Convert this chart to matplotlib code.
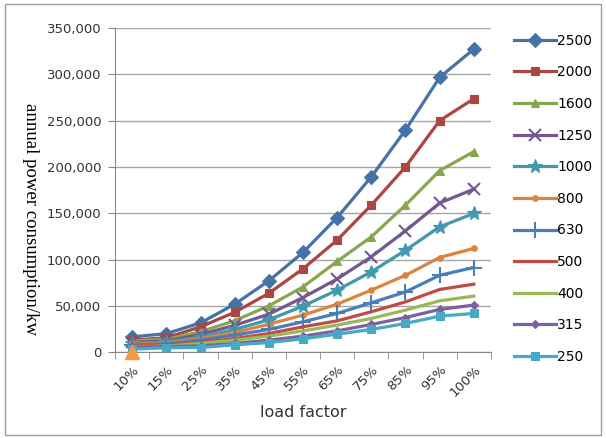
import numpy as np
import matplotlib
matplotlib.use('Agg')
import matplotlib.pyplot as plt
from matplotlib.ticker import FuncFormatter, FixedLocator
from matplotlib.patches import Rectangle

load = ['10%', '15%', '25%', '35%', '45%', '55%', '65%', '75%', '85%', '95%', '100%']

s2500 = [16500, 20000, 31600, 51800, 77000, 107700, 145400, 189300, 239800, 296700, 327200]
s2000 = [13000, 15500, 27400, 43000, 63600, 90000, 121000, 158800, 200000, 250000, 273600]
s1600 = [12000, 14000, 22000, 34000, 50000, 70500, 98000, 124500, 158800, 196000, 216500]
s1250 = [10500, 12000, 19000, 29000, 41000, 59000, 79000, 103000, 131000, 161000, 176000]
s1000 = [9500, 11000, 16500, 24500, 35000, 49700, 67000, 86700, 110000, 135300, 149800]
s800 = [8500, 10000, 14700, 21200, 30200, 40000, 51800, 67000, 83000, 102200, 112000]
s630 = [7800, 9000, 13000, 18400, 24500, 32800, 41800, 53300, 65000, 83000, 91400]
s500 = [6800, 7500, 10400, 14700, 20100, 27400, 33800, 43600, 54300, 67700, 73400]
s400 = [6000, 6500, 9400, 13000, 17300, 23000, 29200, 36400, 45400, 55400, 60500]
s315 = [5500, 6000, 6800, 9400, 13000, 17300, 23000, 29900, 37400, 46100, 50800]
s250 = [3200, 4700, 5000, 7900, 10400, 14400, 19400, 24500, 31000, 38900, 41800]
stray = [0]   # lone orange triangle at 10%

names = ['2500', '2000', '1600', '1250', '1000', '800', '630', '500', '400', '315', '250']
series = [s2500, s2000, s1600, s1250, s1000, s800, s630, s500, s400, s315, s250]
colors = ['#4572A7', '#AA4643', '#89A54E', '#71588F', '#4198AF', '#DB843D',
          '#4A7EBB', '#BE4B48', '#98B954', '#7D60A0', '#46AAC5']
markers = ['D', 's', '^', 'x', '*', 'o', '+', None, None, 'D', 's']
msizes = [7, 6, 6, 9, 10, 4, 11, 0, 0, 4, 6]

fig = plt.figure(figsize=(6.06, 4.38), dpi=100)
fig.patches.append(Rectangle((0.008, 0.006), 0.984, 0.985, transform=fig.transFigure,
                             fill=False, edgecolor='#9a9a9a', linewidth=1))
ax = fig.add_axes([0.19, 0.196, 0.62, 0.74])

x = np.arange(len(load))
for name, vals, c, m, ms in zip(names, series, colors, markers, msizes):
    ax.plot(x, vals, color=c, linewidth=2.3, marker=m, markersize=ms,
            markeredgewidth=1.5 if m in ('x', '+') else 0.8, label=name)

ax.plot(x[:1], stray, linestyle='none', marker='^', markersize=10,
        color='#F79646', clip_on=False, zorder=5)

ax.set_xlim(-0.5, len(load) - 0.5)
ax.set_ylim(0, 350000)
ax.yaxis.set_major_locator(FixedLocator(np.arange(0, 350001, 50000)))
ax.yaxis.set_major_formatter(FuncFormatter(lambda v, p: f'{int(v):,}'))
ax.grid(axis='y', color='#a6a6a6', linewidth=1)
ax.set_axisbelow(True)

ax.set_xticks(x)
ax.set_xticklabels(load, rotation=45, ha='right', rotation_mode='anchor')
ax.set_xticks(np.arange(-0.5, len(load)), minor=True)
ax.tick_params(axis='x', which='major', length=0, pad=8, labelsize=9.5, colors='#333333')
ax.tick_params(axis='x', which='minor', length=5, color='#888888', direction='out')
ax.tick_params(axis='y', length=5, color='#888888', labelsize=9.5, colors='#333333', pad=5)

for s in ['top', 'right']:
    ax.spines[s].set_visible(False)
for s in ['left', 'bottom']:
    ax.spines[s].set_color('#888888')

ax.set_xlabel('load factor', fontsize=11.5, color='#333333', labelpad=4)
fig.text(0.05, 0.5, 'annual power consumption/kw', fontsize=13.5,
         family='Liberation Serif', rotation=270, ha='center', va='center')

leg = ax.legend(loc='upper left', bbox_to_anchor=(1.047, 1.0), frameon=False,
                fontsize=10, labelspacing=1.27, handlelength=3.0, handletextpad=0.1,
                borderaxespad=0)

fig.savefig('out.png', dpi=100)
